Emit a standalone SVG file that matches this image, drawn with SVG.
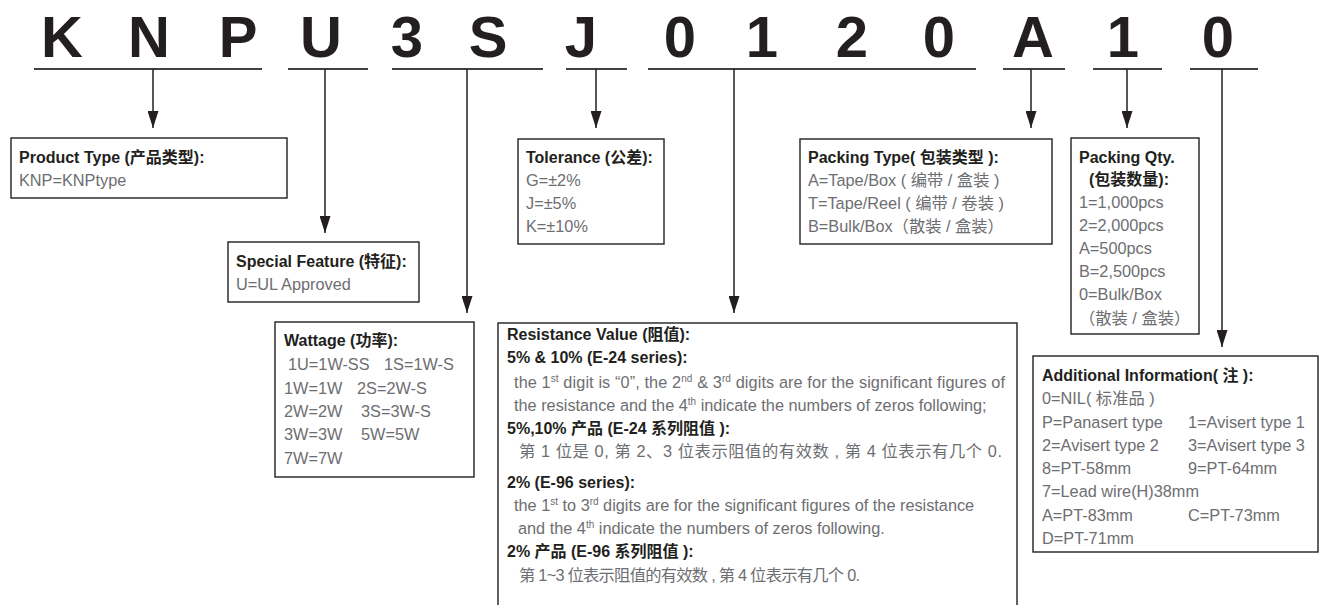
<svg xmlns="http://www.w3.org/2000/svg" width="1320" height="605" viewBox="0 0 1320 605">
<style>
  .code{font-family:"Liberation Sans",Arial,sans-serif;font-weight:bold;font-size:58px;fill:#231f20;text-anchor:middle}
  .ul{stroke:#414042;stroke-width:2;fill:none}
  .box{fill:#ffffff;stroke:#231f20;stroke-width:1.4}
  .conn{stroke:#231f20;stroke-width:1.5;fill:none}
  .t{font-family:"Liberation Sans","Noto Sans CJK SC",sans-serif;font-weight:bold;font-size:16px;fill:#231f20}
  .b{font-family:"Liberation Sans","Noto Sans CJK SC",sans-serif;font-size:16.3px;fill:#6d6e71}
  .sup{font-size:10px}
</style>
<defs>
  <marker id="ah" viewBox="0 0 17 11" refX="17" refY="5.5" markerWidth="17" markerHeight="11" markerUnits="userSpaceOnUse" orient="auto">
    <path d="M0,0 L17,5.5 L0,11 z" fill="#231f20"/>
  </marker>
</defs>
<rect width="1320" height="605" fill="#ffffff"/>

<g id="code">
  <text class="code" x="62" y="57">K</text>
  <text class="code" x="149" y="57">N</text>
  <text class="code" x="238" y="57">P</text>
  <text class="code" x="321" y="57">U</text>
  <text class="code" x="407" y="57">3</text>
  <text class="code" x="488" y="57">S</text>
  <text class="code" x="581" y="57">J</text>
  <text class="code" x="680" y="57">0</text>
  <text class="code" x="762" y="57">1</text>
  <text class="code" x="852" y="57">2</text>
  <text class="code" x="939" y="57">0</text>
  <text class="code" x="1033" y="57">A</text>
  <text class="code" x="1123" y="57">1</text>
  <text class="code" x="1218" y="57">0</text>
  <line class="ul" x1="34" y1="69" x2="262" y2="69"/>
  <line class="ul" x1="288" y1="69" x2="368" y2="69"/>
  <line class="ul" x1="392" y1="69" x2="543" y2="69"/>
  <line class="ul" x1="566" y1="69" x2="627" y2="69"/>
  <line class="ul" x1="648" y1="69" x2="976" y2="69"/>
  <line class="ul" x1="1003" y1="69" x2="1065" y2="69"/>
  <line class="ul" x1="1093" y1="69" x2="1162" y2="69"/>
  <line class="ul" x1="1190" y1="69" x2="1258" y2="69"/>
</g>

<g id="connectors">
  <line class="conn" x1="153" y1="69" x2="153" y2="128" marker-end="url(#ah)"/>
  <line class="conn" x1="325" y1="69" x2="325" y2="233" marker-end="url(#ah)"/>
  <line class="conn" x1="467" y1="69" x2="467" y2="313" marker-end="url(#ah)"/>
  <line class="conn" x1="596" y1="69" x2="596" y2="128" marker-end="url(#ah)"/>
  <line class="conn" x1="734" y1="69" x2="734" y2="313" marker-end="url(#ah)"/>
  <line class="conn" x1="1031" y1="69" x2="1031" y2="128" marker-end="url(#ah)"/>
  <line class="conn" x1="1127" y1="69" x2="1127" y2="128" marker-end="url(#ah)"/>
  <line class="conn" x1="1222" y1="69" x2="1222" y2="347" marker-end="url(#ah)"/>
</g>

<g id="product-type">
  <rect class="box" x="11" y="138" width="276" height="60"/>
  <text class="t" x="19" y="163">Product Type (产品类型):</text>
  <text class="b" x="19" y="186">KNP=KNPtype</text>
</g>

<g id="special-feature">
  <rect class="box" x="228" y="242" width="191" height="60"/>
  <text class="t" x="236" y="267">Special Feature (特征):</text>
  <text class="b" x="236" y="290">U=UL Approved</text>
</g>

<g id="wattage">
  <rect class="box" x="275" y="322" width="199" height="155"/>
  <text class="t" x="284" y="346">Wattage (功率):</text>
  <text class="b" y="370"><tspan x="288">1U=1W-SS</tspan><tspan x="384">1S=1W-S</tspan></text>
  <text class="b" y="394"><tspan x="284">1W=1W</tspan><tspan x="357">2S=2W-S</tspan></text>
  <text class="b" y="417"><tspan x="284">2W=2W</tspan><tspan x="361">3S=3W-S</tspan></text>
  <text class="b" y="440"><tspan x="284">3W=3W</tspan><tspan x="361">5W=5W</tspan></text>
  <text class="b" x="284" y="464">7W=7W</text>
</g>

<g id="tolerance">
  <rect class="box" x="518" y="139" width="146" height="105"/>
  <text class="t" x="526" y="163">Tolerance (公差):</text>
  <text class="b" x="526" y="186">G=±2%</text>
  <text class="b" x="526" y="209">J=±5%</text>
  <text class="b" x="526" y="232">K=±10%</text>
</g>

<g id="resistance-value">
  <rect class="box" x="498" y="323" width="519" height="300"/>
  <text class="t" x="507" y="340">Resistance Value (阻值):</text>
  <text class="t" x="507" y="363">5% &amp; 10% (E-24 series):</text>
  <text class="b" x="514" y="388" textLength="491" lengthAdjust="spacing">the 1<tspan class="sup" dy="-6">st</tspan><tspan dy="6"> digit is “0”, the 2</tspan><tspan class="sup" dy="-6">nd</tspan><tspan dy="6"> &amp; 3</tspan><tspan class="sup" dy="-6">rd</tspan><tspan dy="6"> digits are for the significant figures of</tspan></text>
  <text class="b" x="514" y="411">the resistance and the 4<tspan class="sup" dy="-6">th</tspan><tspan dy="6"> indicate the numbers of zeros following;</tspan></text>
  <text class="t" x="507" y="434">5%,10% 产品 (E-24 系列阻值 ):</text>
  <text class="b" x="519" y="457" textLength="483" lengthAdjust="spacing">第 1 位是 0, 第 2、3 位表示阻值的有效数 , 第 4 位表示有几个 0.</text>
  <text class="t" x="507" y="488">2% (E-96 series):</text>
  <text class="b" x="514" y="511">the 1<tspan class="sup" dy="-6">st</tspan><tspan dy="6"> to 3</tspan><tspan class="sup" dy="-6">rd</tspan><tspan dy="6"> digits are for the significant figures of the resistance</tspan></text>
  <text class="b" x="518" y="534">and the 4<tspan class="sup" dy="-6">th</tspan><tspan dy="6"> indicate the numbers of zeros following.</tspan></text>
  <text class="t" x="507" y="557">2% 产品 (E-96 系列阻值 ):</text>
  <text class="b" x="519" y="581" textLength="341" lengthAdjust="spacing">第 1~3 位表示阻值的有效数 , 第 4 位表示有几个 0.</text>
</g>

<g id="packing-type">
  <rect class="box" x="800" y="139" width="252" height="105"/>
  <text class="t" x="808" y="163">Packing Type( 包装类型 ):</text>
  <text class="b" x="808" y="186">A=Tape/Box ( 编带 / 盒装 )</text>
  <text class="b" x="808" y="209">T=Tape/Reel ( 编带 / 卷装 )</text>
  <text class="b" x="808" y="232">B=Bulk/Box（散装 / 盒装）</text>
</g>

<g id="packing-qty">
  <rect class="box" x="1071" y="138" width="128" height="196"/>
  <text class="t" x="1079" y="163">Packing Qty.</text>
  <text class="t" x="1089" y="185">(包装数量):</text>
  <text class="b" x="1079" y="208">1=1,000pcs</text>
  <text class="b" x="1079" y="231">2=2,000pcs</text>
  <text class="b" x="1079" y="254">A=500pcs</text>
  <text class="b" x="1079" y="277">B=2,500pcs</text>
  <text class="b" x="1079" y="300">0=Bulk/Box</text>
  <text class="b" x="1079" y="324">（散装 / 盒装）</text>
</g>

<g id="additional-information">
  <rect class="box" x="1033" y="356" width="285" height="196"/>
  <text class="t" x="1042" y="381">Additional Information( 注 ):</text>
  <text class="b" x="1042" y="404">0=NIL( 标准品 )</text>
  <text class="b" y="428"><tspan x="1042">P=Panasert type</tspan><tspan x="1188">1=Avisert type 1</tspan></text>
  <text class="b" y="451"><tspan x="1042">2=Avisert type 2</tspan><tspan x="1188">3=Avisert type 3</tspan></text>
  <text class="b" y="474"><tspan x="1042">8=PT-58mm</tspan><tspan x="1188">9=PT-64mm</tspan></text>
  <text class="b" x="1042" y="497">7=Lead wire(H)38mm</text>
  <text class="b" y="521"><tspan x="1042">A=PT-83mm</tspan><tspan x="1188">C=PT-73mm</tspan></text>
  <text class="b" x="1042" y="544">D=PT-71mm</text>
</g>
</svg>
